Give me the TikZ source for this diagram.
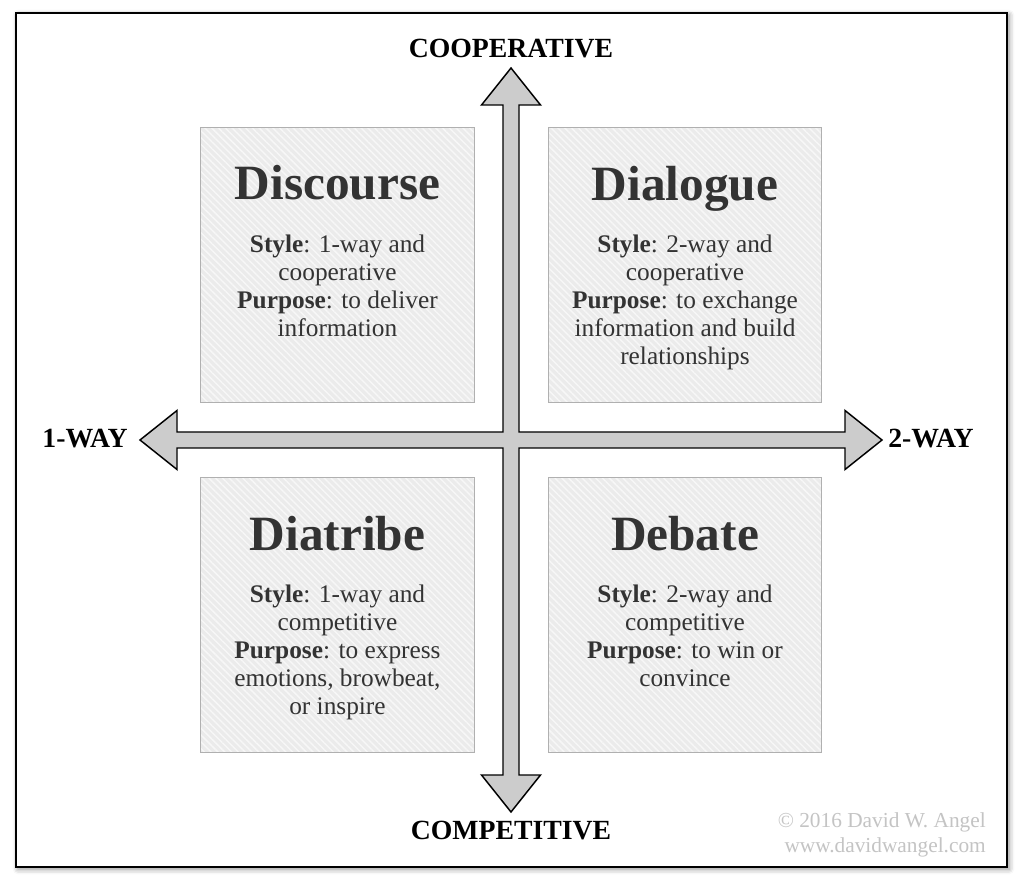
\documentclass[tikz,border=0pt]{standalone}
\usepackage{fontspec}
\setmainfont{Liberation Serif}
\usetikzlibrary{positioning, calc, patterns.meta, shadows.blur}
\definecolor{boxgray}{HTML}{EBEBEB}
\definecolor{boxline}{HTML}{B0B0B0}
\definecolor{crossgray}{HTML}{CCCCCC}
\definecolor{txtgray}{HTML}{333333}
\definecolor{cpygray}{HTML}{C4C4C4}
\tikzset{
  quad/.style={draw=boxline, line width=0.8pt, preaction={fill=boxgray},
    pattern={Lines[angle=-45, distance=3.6pt, line width=1.1pt]}, pattern color=white!60!boxgray,
    minimum width=205pt, minimum height=206pt, inner sep=0pt},
  ttl/.style={font=\fontsize{37}{42}\selectfont\bfseries, text=txtgray, inner sep=0pt, anchor=base},
  body/.style={font=\fontsize{19}{21}\selectfont, text=txtgray, align=center, inner sep=0pt, anchor=north},
  axl/.style={font=\fontsize{20.8}{24}\selectfont\bfseries, inner sep=0pt}
}
\begin{document}
\begin{tikzpicture}[x=0.75pt, y=-0.75pt]
\useasboundingbox (0,0) rectangle (1024,887);
% frame with soft shadow
\draw[line width=1.5pt, fill=white,
  blur shadow={shadow xshift=1.5pt, shadow yshift=-1.5pt, shadow blur radius=4pt, shadow opacity=45}]
  (16,13) rectangle (1007,867);
% four quadrants
\node[quad] (dsc) at (337.5,265) {};
\node[quad] (dlg) at (685,265) {};
\node[quad] (dtr) at (337.5,615) {};
\node[quad] (dbt) at (685,615) {};
\node[ttl] (dsct) at ([yshift=-54.75pt]dsc.north) {Discourse};
\node[ttl] (dlgt) at ([yshift=-54.75pt]dlg.north) {Dialogue};
\node[ttl] (dtrt) at ([yshift=-54.75pt]dtr.north) {Diatribe};
\node[ttl] (dbtt) at ([yshift=-54.75pt]dbt.north) {Debate};
\node[body] (dscb) at ([yshift=-80.5pt]dsc.north)
  {\textbf{Style}: 1-way and\\cooperative\\\textbf{Purpose}: to deliver\\information};
\node[body] (dlgb) at ([yshift=-80.5pt]dlg.north)
  {\textbf{Style}: 2-way and\\cooperative\\\textbf{Purpose}: to exchange\\information and build\\relationships};
\node[body] (dtrb) at ([yshift=-80.5pt]dtr.north)
  {\textbf{Style}: 1-way and\\competitive\\\textbf{Purpose}: to express\\emotions, browbeat,\\or inspire};
\node[body] (dbtb) at ([yshift=-80.5pt]dbt.north)
  {\textbf{Style}: 2-way and\\competitive\\\textbf{Purpose}: to win or\\convince};
% the cross of arrows
\draw[fill=crossgray, line width=1.1pt, line join=miter]
  (511,68) -- (540.5,105) -- (519,105) -- (519,432) -- (845,432) -- (845,410.5)
  -- (882,440) -- (845,469.5) -- (845,448) -- (519,448) -- (519,775) -- (540.5,775)
  -- (511,812) -- (481.5,775) -- (503,775) -- (503,448) -- (177,448) -- (177,469.5)
  -- (140,440) -- (177,410.5) -- (177,432) -- (503,432) -- (503,105) -- (481.5,105) -- cycle;
\coordinate (up) at (511,68);
\coordinate (dn) at (511,812);
\coordinate (lt) at (140,440);
\coordinate (rt) at (882,440);
\node[axl, anchor=base] (coop) at ([yshift=7.5pt]up) {COOPERATIVE};
\node[axl, anchor=base] (comp) at ([yshift=-20.25pt]dn) {COMPETITIVE};
\node[axl, anchor=base east] (one) at ([xshift=-9pt, yshift=-6pt]lt) {1-WAY};
\node[axl, anchor=base west] (two) at ([xshift=4.5pt, yshift=-6pt]rt) {2-WAY};
% credit
\node[font=\fontsize{16}{18}\selectfont, text=cpygray, inner sep=0pt, anchor=base east] (cpy) at (986,827) {© 2016 David W. Angel};
\node[font=\fontsize{16}{18}\selectfont, text=cpygray, inner sep=0pt, anchor=base east] (web) at ([yshift=-18.75pt]cpy.base east) {www.davidwangel.com};
\end{tikzpicture}
\end{document}
